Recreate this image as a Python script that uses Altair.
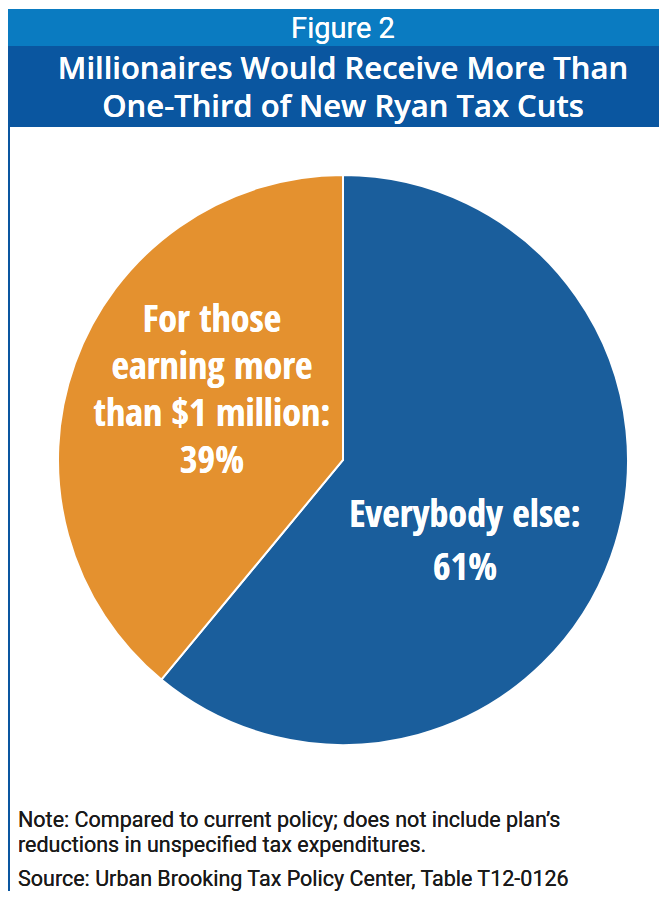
import altair as alt
import pandas as pd

groups = ["Everybody else", "For those earning more than $1 million"]
shares = [61, 39]
colors = ["#1A5E9C", "#E4912F"]

fig_label = "Figure 2"
title_lines = ["Millionaires Would Receive More Than", "One-Third of New Ryan Tax Cuts"]
label_else = ["Everybody else:", "61%"]
label_mill = ["For those", "earning more", "than $1 million:", "39%"]
note_lines = ["Note: Compared to current policy; does not include plan\u2019s",
              "reductions in unspecified tax expenditures."]
source_line = "Source: Urban Brooking Tax Policy Center, Table T12-0126"

df = pd.DataFrame({"group": groups, "share": shares, "order": [0, 1]})

W, H = 651, 883
OFF = 8  # page margin

band_light = alt.Chart(df).mark_rect(color="#0A7BC1").encode(
    x=alt.value(0), x2=alt.value(W), y=alt.value(9 - OFF), y2=alt.value(46 - OFF))
band_dark = alt.Chart(df).mark_rect(color="#0A56A0").encode(
    x=alt.value(0), x2=alt.value(W), y=alt.value(46 - OFF), y2=alt.value(127 - OFF))
border = alt.Chart(df).mark_rule(color="#0A56A0", strokeWidth=2).encode(
    x=alt.value(1), y=alt.value(127 - OFF), y2=alt.value(H))

pie = alt.Chart(df).mark_arc(outerRadius=285, stroke="white", strokeWidth=2).encode(
    theta=alt.Theta("share:Q", stack=True),
    order=alt.Order("order:Q"),
    color=alt.Color("group:N", scale=alt.Scale(domain=groups, range=colors), legend=None),
    x=alt.value(343 - OFF), y=alt.value(460 - OFF))

TF = "Open Sans"
LF = "Open Sans Condensed"
NF = "Roboto"

fig_txt = alt.Chart(df).mark_text(font="Roboto", fontSize=29, color="white", baseline="alphabetic").encode(
    x=alt.value(343 - OFF), y=alt.value(38 - OFF), text=alt.value(fig_label))
title_txt = alt.Chart(df).mark_text(font=TF, fontSize=31, fontWeight=600, color="white",
                                    baseline="alphabetic", lineHeight=38).encode(
    x=alt.value(343 - OFF), y=alt.value(79 - OFF), text=alt.value(title_lines))

lab1 = alt.Chart(df).mark_text(font=LF, fontSize=38, fontWeight="bold", color="white",
                               baseline="alphabetic", lineHeight=53).encode(
    x=alt.value(465 - OFF), y=alt.value(527 - OFF), text=alt.value(label_else))
lab2 = alt.Chart(df).mark_text(font=LF, fontSize=38, fontWeight="bold", color="white",
                               baseline="alphabetic", lineHeight=47).encode(
    x=alt.value(212 - OFF), y=alt.value(332 - OFF), text=alt.value(label_mill))

note_txt = alt.Chart(df).mark_text(font=NF, fontSize=21.5, color="#1a1a1a", align="left",
                                   baseline="alphabetic", lineHeight=25).encode(
    x=alt.value(18 - OFF), y=alt.value(827 - OFF), text=alt.value(note_lines))
src_txt = alt.Chart(df).mark_text(font=NF, fontSize=21.5, color="#1a1a1a", align="left",
                                  baseline="alphabetic").encode(
    x=alt.value(18 - OFF), y=alt.value(886 - OFF), text=alt.value(source_line))

chart = alt.layer(band_light, band_dark, border, pie, fig_txt, title_txt, lab1, lab2,
                  note_txt, src_txt).properties(
    width=W, height=H, padding=0,
    autosize=alt.AutoSizeParams(type="fit", contains="padding")
).configure_view(stroke=None)

chart.save("out.html", embed_options={"renderer": "svg", "actions": False})
